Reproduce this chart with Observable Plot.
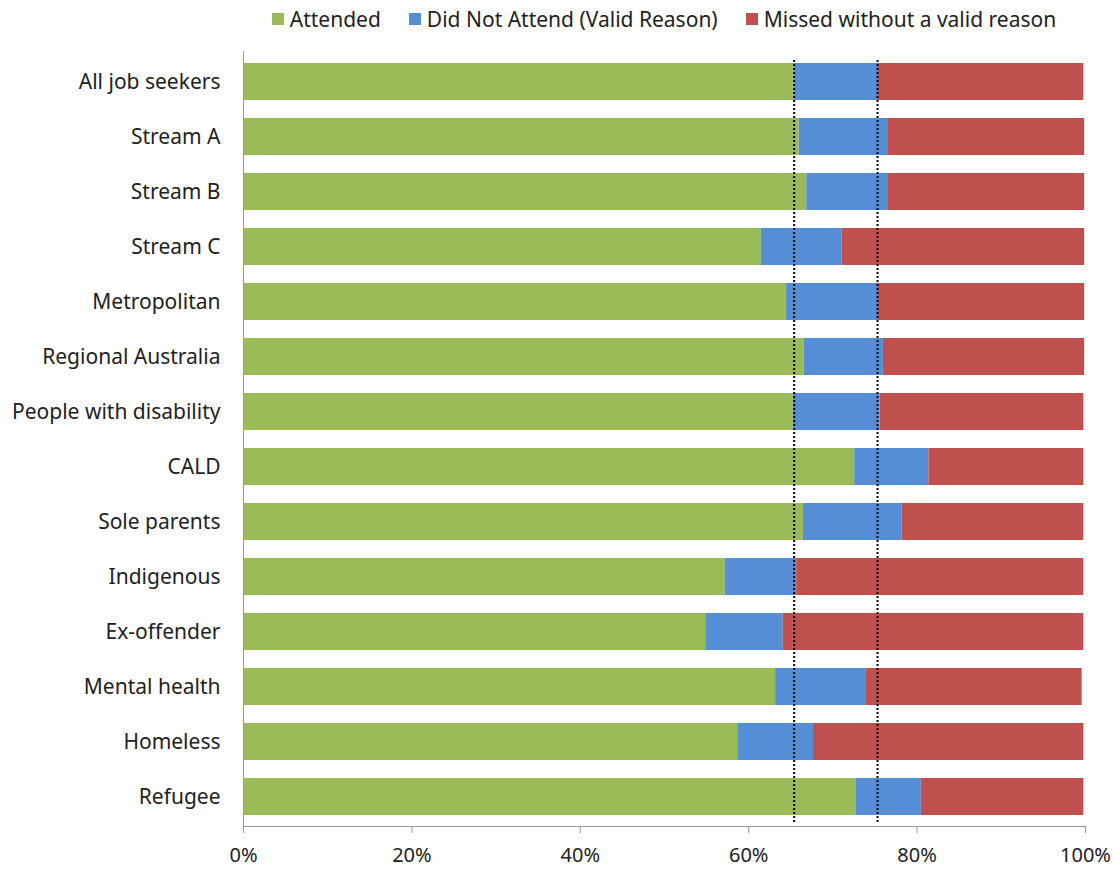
<!DOCTYPE html>
<html>
<head>
<meta charset="utf-8">
<script src="https://cdn.jsdelivr.net/npm/d3@7"></script>
<script src="https://cdn.jsdelivr.net/npm/@observablehq/plot@0.6"></script>
<style>
  html, body { margin: 0; padding: 0; background: #fff; }
  #chart { width: 1115px; font-family: "Noto Sans", sans-serif; color: #222; }
  .legend { box-sizing: border-box; height: 37px; padding-left: 243px; padding-right: 30px;
            display: flex; justify-content: center; align-items: center; gap: 28px; font-size: 21px; }
  .legend .item { display: flex; align-items: center; gap: 6px; }
  .legend .sw { width: 12px; height: 12px; display: inline-block; }
  svg { display: block; }
</style>
</head>
<body>
<div id="chart"></div>
<script>
// Appointment attendance by job seeker group (% of appointments)
const categories = [
  "All job seekers", "Stream A", "Stream B", "Stream C", "Metropolitan",
  "Regional Australia", "People with disability", "CALD", "Sole parents",
  "Indigenous", "Ex-offender", "Mental health", "Homeless", "Refugee"
];
const attended    = [65.4, 66.0, 66.9, 61.5, 64.5, 66.6, 65.3, 72.6, 66.5, 57.2, 54.9, 63.2, 58.7, 72.8];
const validReason = [ 9.9, 10.5,  9.6,  9.6, 10.8,  9.4, 10.3,  8.8, 11.7,  8.5,  9.2, 10.7,  9.0,  7.7];
const missed      = [24.5, 23.4, 23.4, 28.8, 24.6, 23.9, 24.2, 18.4, 21.6, 34.1, 35.7, 25.7, 32.1, 19.3];

const seriesNames = ["Attended", "Did Not Attend (Valid Reason)", "Missed without a valid reason"];
const seriesColors = ["#9BBB59", "#558ED5", "#C0504D"];
const xTicks = [0, 20, 40, 60, 80, 100];

// Long table: one row per category and series
const seriesValues = [attended, validReason, missed];
const rows = [];
seriesNames.forEach((s, i) => {
  categories.forEach((c, j) => rows.push({category: c, series: s, value: seriesValues[i][j]}));
});

// Benchmarks: cumulative shares for all job seekers
const benchmarks = [attended[0], attended[0] + validReason[0]];

const font = "Noto Sans, sans-serif";

const plot = Plot.plot({
  width: 1115,
  height: 833,
  marginLeft: 243,
  marginRight: 30,
  marginTop: 14,
  marginBottom: 44,
  style: {fontFamily: font, fontSize: "20px", color: "#222", background: "#fff"},
  x: {domain: [0, 100], ticks: xTicks, tickFormat: d => d + "%"},
  y: {domain: categories, paddingInner: 0.336, paddingOuter: 0.168},
  color: {domain: seriesNames, range: seriesColors},
  marks: [
    Plot.barX(rows, Plot.stackX({y: "category", x: "value", z: "series", fill: "series", order: null})),
    Plot.ruleX(benchmarks, {stroke: "#000", strokeWidth: 2, strokeDasharray: "2,2", insetTop: 9, insetBottom: 4}),
    Plot.ruleX([0], {stroke: "#9a9a9a", strokeWidth: 1}),
    Plot.frame({anchor: "bottom", stroke: "#9a9a9a"}),
    Plot.axisY({tickSize: 0, tickPadding: 23, fontSize: 21, label: null}),
    Plot.axisX({ticks: xTicks, tickFormat: d => d + "%", tickSize: 7, tickPadding: 14, fontSize: 20, stroke: "#9a9a9a", label: null})
  ]
});

const root = document.getElementById("chart");
const legend = document.createElement("div");
legend.className = "legend";
seriesNames.forEach((s, i) => {
  const item = document.createElement("span");
  item.className = "item";
  const sw = document.createElement("span");
  sw.className = "sw";
  sw.style.background = seriesColors[i];
  const label = document.createElement("span");
  label.textContent = s;
  item.append(sw, label);
  legend.append(item);
});
root.append(legend, plot);
</script>
</body>
</html>
